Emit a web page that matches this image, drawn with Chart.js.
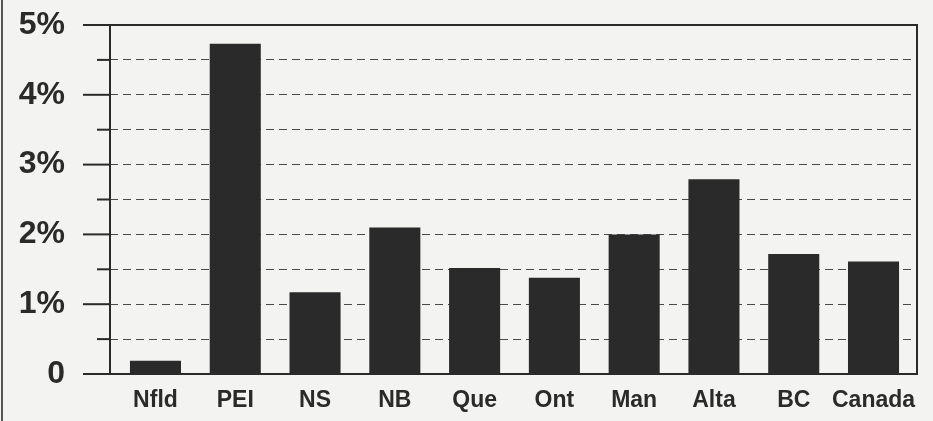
<!DOCTYPE html>
<html>
<head>
<meta charset="utf-8">
<script src="https://cdn.jsdelivr.net/npm/chart.js@4/dist/chart.umd.min.js"></script>
<style>
  html, body { margin: 0; padding: 0; background: #f3f3f1; }
  #wrap { width: 933px; height: 421px; position: relative; }
</style>
</head>
<body>
<div id="wrap"><canvas id="c" width="933" height="421"></canvas></div>
<script>
const categories = ['Nfld', 'PEI', 'NS', 'NB', 'Que', 'Ont', 'Man', 'Alta', 'BC', 'Canada'];
const values = [0.19, 4.73, 1.17, 2.10, 1.52, 1.38, 2.00, 2.79, 1.72, 1.61];
const yTickValues = [0, 0.5, 1, 1.5, 2, 2.5, 3, 3.5, 4, 4.5, 5];
const yTickLabels = { 0: '0', 1: '1%', 2: '2%', 3: '3%', 4: '4%', 5: '5%' };

const ink = '#2a2a2a';

const framePlugin = {
  id: 'frame',
  beforeDraw(chart) {
    const ctx = chart.ctx;
    ctx.save();
    ctx.fillStyle = '#f3f3f1';
    ctx.fillRect(0, 0, chart.width, chart.height);
    ctx.strokeStyle = '#555';
    ctx.lineWidth = 2;
    ctx.beginPath();
    ctx.moveTo(2, 0);
    ctx.lineTo(2, chart.height);
    ctx.stroke();
    ctx.restore();
  },
  afterDraw(chart) {
    const ctx = chart.ctx;
    const a = chart.chartArea;
    const ys = chart.scales.y;
    ctx.save();
    ctx.strokeStyle = ink;
    ctx.lineWidth = 2;
    ctx.strokeRect(a.left, a.top, a.right - a.left, a.bottom - a.top);
    ys.ticks.forEach(t => {
      const py = ys.getPixelForValue(t.value);
      const major = Math.abs(t.value - Math.round(t.value)) < 1e-6;
      ctx.beginPath();
      ctx.moveTo(a.left - (major ? 27 : 13), py);
      ctx.lineTo(a.left, py);
      ctx.stroke();
    });
    ctx.restore();
  }
};

new Chart(document.getElementById('c'), {
  type: 'bar',
  data: {
    datasets: [{
      data: values.map((v, i) => ({ x: i, y: v })),
      backgroundColor: ink,
      borderWidth: 0,
      barPercentage: 0.64,
      categoryPercentage: 1
    }]
  },
  options: {
    responsive: false,
    animation: false,
    devicePixelRatio: 1,
    layout: { padding: { left: 0, right: 16, top: 25, bottom: 0 } },
    plugins: { legend: { display: false }, tooltip: { enabled: false } },
    scales: {
      x: {
        type: 'linear',
        offset: false,
        min: -0.57,
        max: 9.545,
        grid: { display: false, offset: false },
        border: { display: false },
        afterFit(s) { s.height = 47; },
        afterBuildTicks(s) { s.ticks = categories.map((_, i) => ({ value: i })); },
        ticks: {
          autoSkip: false,
          maxRotation: 0,
          padding: 5,
          color: ink,
          font: { family: 'Liberation Sans', size: 23, weight: 'bold' },
          callback: (v) => categories[v] ?? ''
        }
      },
      y: {
        min: 0,
        max: 5,
        afterFit(s) { s.width = 110; },
        afterBuildTicks(s) { s.ticks = yTickValues.map(v => ({ value: v })); },
        grid: { color: '#4a4a4a', lineWidth: 1, drawTicks: true, tickLength: 45, tickColor: 'rgba(0,0,0,0)' },
        border: { display: false, dash: [8, 5] },
        ticks: {
          autoSkip: false,
          padding: 0,
          color: ink,
          font: { family: 'Liberation Sans', size: 32, weight: 'bold' },
          callback: (v) => yTickLabels[v] ?? ''
        }
      }
    }
  },
  plugins: [framePlugin]
});
</script>
</body>
</html>
